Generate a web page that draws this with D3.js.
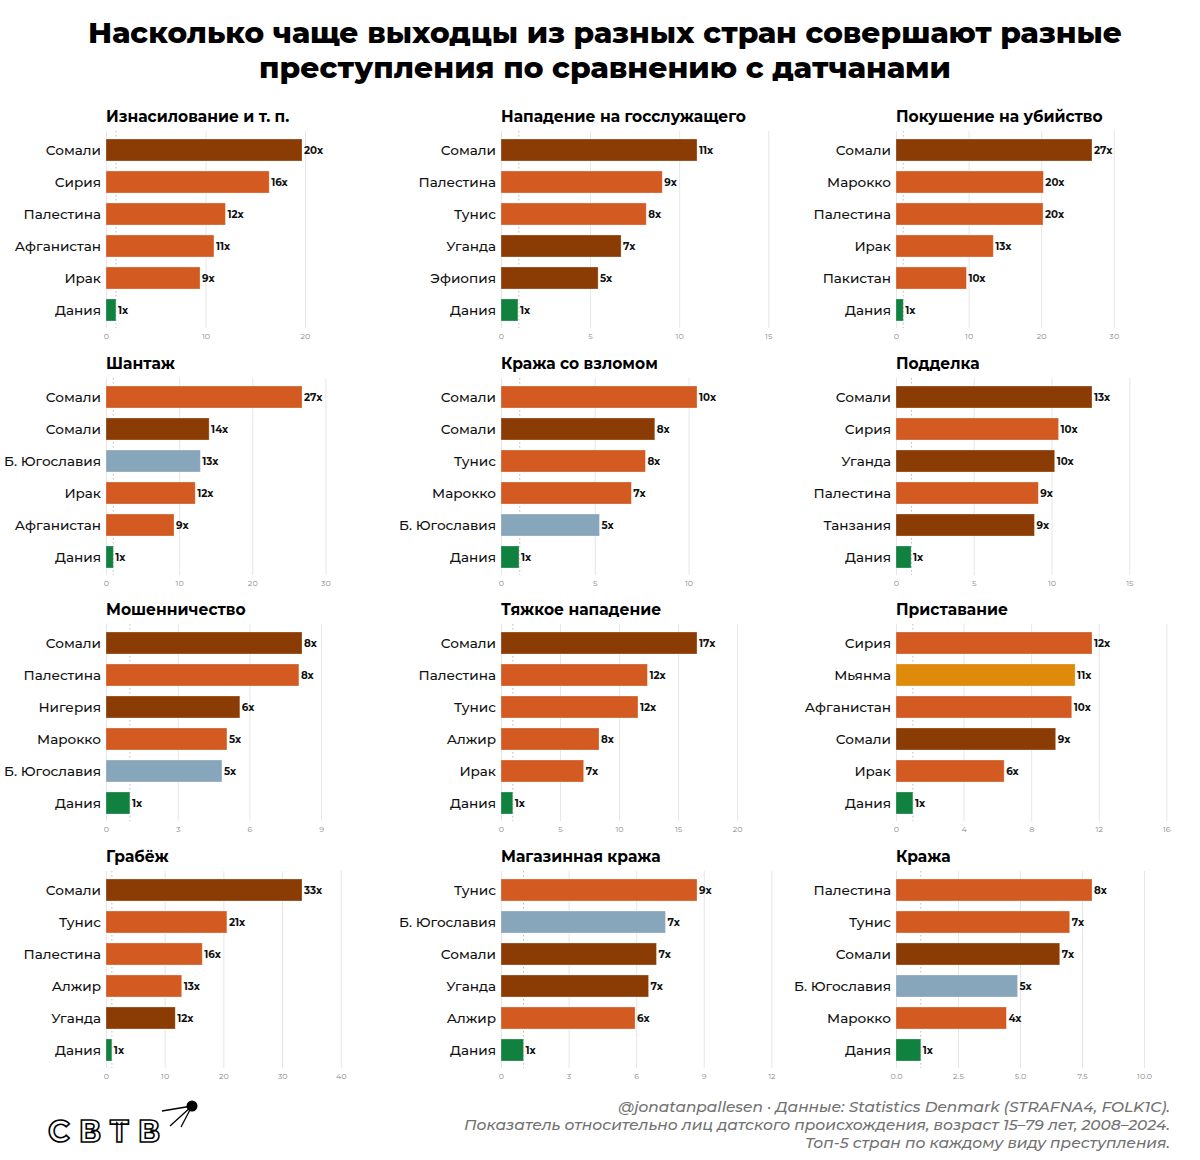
<!DOCTYPE html>
<html>
<head>
<meta charset="utf-8">
<script src="https://cdn.jsdelivr.net/npm/d3@7"></script>
<style>
  html, body { margin: 0; padding: 0; background: #fff; }
  svg { display: block; }
</style>
</head>
<body>
<svg id="chart" width="1200" height="1160"></svg>
<script>
// ---------------- DATA ----------------
const titleLines = [
  "Насколько чаще выходцы из разных стран совершают разные",
  "преступления по сравнению с датчанами"
];

const panelTitles = [
  "Изнасилование и т. п.", "Нападение на госслужащего", "Покушение на убийство",
  "Шантаж", "Кража со взломом", "Подделка",
  "Мошенничество", "Тяжкое нападение", "Приставание",
  "Грабёж", "Магазинная кража", "Кража"
];

const countries = [
  ["Сомали", "Сирия", "Палестина", "Афганистан", "Ирак", "Дания"],
  ["Сомали", "Палестина", "Тунис", "Уганда", "Эфиопия", "Дания"],
  ["Сомали", "Марокко", "Палестина", "Ирак", "Пакистан", "Дания"],
  ["Сомали", "Сомали", "Б. Югославия", "Ирак", "Афганистан", "Дания"],
  ["Сомали", "Сомали", "Тунис", "Марокко", "Б. Югославия", "Дания"],
  ["Сомали", "Сирия", "Уганда", "Палестина", "Танзания", "Дания"],
  ["Сомали", "Палестина", "Нигерия", "Марокко", "Б. Югославия", "Дания"],
  ["Сомали", "Палестина", "Тунис", "Алжир", "Ирак", "Дания"],
  ["Сирия", "Мьянма", "Афганистан", "Сомали", "Ирак", "Дания"],
  ["Сомали", "Тунис", "Палестина", "Алжир", "Уганда", "Дания"],
  ["Тунис", "Б. Югославия", "Сомали", "Уганда", "Алжир", "Дания"],
  ["Палестина", "Тунис", "Сомали", "Б. Югославия", "Марокко", "Дания"]
];

const values = [
  [19.7, 16.4, 12.0, 10.85, 9.45, 1.0],
  [11.0, 9.05, 8.15, 6.74, 5.45, 0.95],
  [27.0, 20.3, 20.25, 13.4, 9.7, 1.0],
  [26.8, 14.1, 12.9, 12.2, 9.3, 1.0],
  [10.45, 8.2, 7.7, 6.95, 5.25, 0.96],
  [12.6, 10.45, 10.2, 9.15, 8.9, 0.97],
  [8.2, 8.07, 5.6, 5.06, 4.85, 1.0],
  [16.6, 12.4, 11.6, 8.3, 7.0, 1.0],
  [11.6, 10.6, 10.4, 9.45, 6.4, 1.0],
  [33.4, 20.6, 16.4, 12.9, 11.8, 1.0],
  [8.7, 7.3, 6.9, 6.55, 5.95, 1.0],
  [7.9, 7.0, 6.6, 4.9, 4.45, 1.0]
];

// colour group of each bar: dk = East Africa (dark brown), or = MENA (orange),
// bl = ex-Yugoslavia, gd = Asia (gold), gn = Denmark
const groups = [
  ["dk", "or", "or", "or", "or", "gn"],
  ["dk", "or", "or", "dk", "dk", "gn"],
  ["dk", "or", "or", "or", "or", "gn"],
  ["or", "dk", "bl", "or", "or", "gn"],
  ["or", "dk", "or", "or", "bl", "gn"],
  ["dk", "or", "dk", "or", "dk", "gn"],
  ["dk", "or", "dk", "or", "bl", "gn"],
  ["dk", "or", "or", "or", "or", "gn"],
  ["or", "gd", "or", "dk", "or", "gn"],
  ["dk", "or", "or", "or", "dk", "gn"],
  ["or", "bl", "dk", "dk", "or", "gn"],
  ["or", "or", "dk", "bl", "or", "gn"]
];

const tickLabels = [
  ["0", "10", "20"],
  ["0", "5", "10", "15"],
  ["0", "10", "20", "30"],
  ["0", "10", "20", "30"],
  ["0", "5", "10"],
  ["0", "5", "10", "15"],
  ["0", "3", "6", "9"],
  ["0", "5", "10", "15", "20"],
  ["0", "4", "8", "12", "16"],
  ["0", "10", "20", "30", "40"],
  ["0", "3", "6", "9", "12"],
  ["0.0", "2.5", "5.0", "7.5", "10.0"]
];

const footerLines = [
  "@jonatanpallesen · Данные: Statistics Denmark (STRAFNA4, FOLK1C).",
  "Показатель относительно лиц датского происхождения, возраст 15–79 лет, 2008–2024.",
  "Топ-5 стран по каждому виду преступления."
];

// ---------------- STYLE / LAYOUT ----------------
const colors = { dk: "#8b3c05", or: "#d35a21", bl: "#88a6bb", gd: "#de8b0b", gn: "#10813f" };
const colX = [106, 501, 896];
const rowY = [150, 397, 643, 890];   // centre of first bar in each row
const plotW = 275;
const maxBarW = 196;
const step = 32;
const FONT = "Montserrat, Inter, 'Noto Sans', 'DejaVu Sans', sans-serif";

const svg = d3.select("#chart").style("font-family", FONT);

// Title
const tl = svg.append("g");
const titleW = [1034, 692];
const titleBase = [43, 78];
titleLines.forEach((t, i) => {
  tl.append("text")
    .attr("x", 605).attr("y", titleBase[i])
    .attr("text-anchor", "middle")
    .attr("font-size", 28).attr("font-weight", 800)
    .attr("fill", "#000")
    .attr("textLength", titleW[i]).attr("lengthAdjust", "spacingAndGlyphs")
    .text(t);
});

// Panels
panelTitles.forEach((title, p) => {
  const col = p % 3, row = Math.floor(p / 3);
  const x0 = colX[col], yc = rowY[row];
  const vals = values[p];
  const maxV = d3.max(vals);
  const x = d3.scaleLinear().domain([0, maxV * plotW / maxBarW]).range([0, plotW]);
  const y = d3.scaleBand().domain(d3.range(vals.length))
    .range([-step / 2, -step / 2 + step * vals.length])
    .paddingInner(0.3125).paddingOuter(0.15625);

  const g = svg.append("g").attr("transform", `translate(${x0},${yc})`);
  const gridTop = -19, gridBot = 178;

  // Grid + axis
  const tv = tickLabels[p].map(Number);
  const fmt = d => tickLabels[p][tv.indexOf(d)];
  const ax = g.append("g").attr("transform", `translate(0,${gridBot})`)
    .call(d3.axisBottom(x).tickValues(tv).tickFormat(fmt)
      .tickSize(-(gridBot - gridTop)).tickPadding(5));
  ax.select(".domain").remove();
  ax.selectAll(".tick line").attr("stroke", "#e6e6e6").attr("stroke-width", 1);
  ax.selectAll(".tick text").attr("fill", "#8a8a8a").attr("font-size", 8)
    .attr("font-family", FONT);

  // Reference line at 1x
  g.append("line")
    .attr("x1", x(1)).attr("x2", x(1))
    .attr("y1", gridTop).attr("y2", gridBot)
    .attr("stroke", "#bdbdbd").attr("stroke-width", 1)
    .attr("stroke-dasharray", "1.5,2.5");

  // Bars
  g.selectAll("rect.bar").data(vals).join("rect")
    .attr("class", "bar")
    .attr("x", x(0))
    .attr("y", (d, i) => y(i))
    .attr("width", d => x(d) - x(0))
    .attr("height", y.bandwidth())
    .attr("fill", (d, i) => colors[groups[p][i]])
    .attr("stroke", "#fff").attr("stroke-opacity", 0.35).attr("stroke-width", 0.8);

  // Value labels
  g.selectAll("text.val").data(vals).join("text")
    .attr("class", "val")
    .attr("x", d => x(d) + 2)
    .attr("y", (d, i) => y(i) + y.bandwidth() / 2)
    .attr("dy", "0.35em")
    .attr("font-size", 10.3).attr("font-weight", 700).attr("fill", "#111")
    .text(d => Math.round(d) + "x");

  // Country labels
  g.selectAll("text.cty").data(countries[p]).join("text")
    .attr("class", "cty")
    .attr("x", -5)
    .attr("y", (d, i) => y(i) + y.bandwidth() / 2)
    .attr("dy", "0.35em")
    .attr("text-anchor", "end")
    .attr("font-size", 13.6).attr("font-weight", 500).attr("fill", "#111")
    .text(d => d);

  // Panel title
  g.append("text")
    .attr("x", 0).attr("y", -33).attr("dy", "0.35em")
    .attr("font-size", 15.5).attr("font-weight", 700).attr("fill", "#000")
    .text(title);
});

// Footer
const ft = svg.append("g");
const footBase = [1112, 1130, 1148];
footerLines.forEach((t, i) => {
  ft.append("text")
    .attr("x", 1170).attr("y", footBase[i])
    .attr("text-anchor", "end")
    .attr("font-size", 15.4).attr("font-style", "italic").attr("font-weight", 500)
    .attr("fill", "#727272")
    .text(t);
});

// Logo
const logo = svg.append("g");
logo.append("text")
  .attr("x", 48).attr("y", 1142)
  .attr("font-size", 30).attr("font-weight", 700)
  .attr("letter-spacing", 9)
  .attr("fill", "#fff").attr("stroke", "#000").attr("stroke-width", 1.6)
  .attr("font-family", FONT)
  .text("СВТВ");
const sat = { x: 192, y: 1106 };
[[162, 1111], [170, 1126], [181, 1127]].forEach(([ex, ey]) => {
  logo.append("line").attr("x1", sat.x).attr("y1", sat.y).attr("x2", ex).attr("y2", ey)
    .attr("stroke", "#000").attr("stroke-width", 1.3);
});
logo.append("circle").attr("cx", sat.x).attr("cy", sat.y).attr("r", 5.5).attr("fill", "#000");
</script>
</body>
</html>
